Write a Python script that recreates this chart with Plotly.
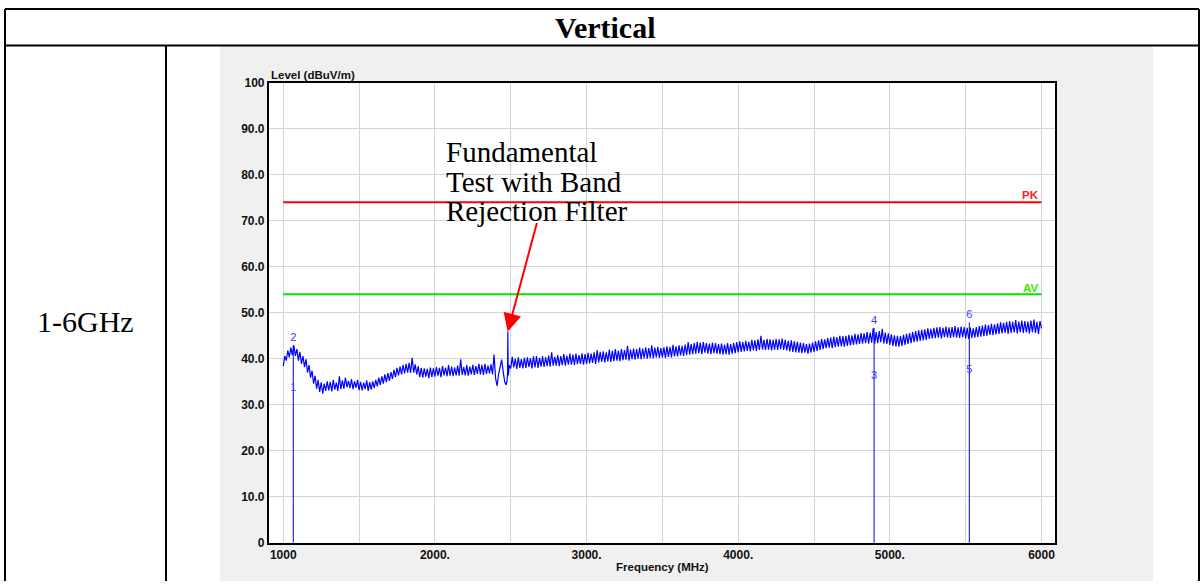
import plotly.graph_objects as go

# ---------------- data ----------------
freq_a = list(range(1000, 2460, 10))
level_a = [38.4, 40.6, 39.6, 41.8, 40.3, 42.4, 40.8, 42.9, 40.6, 42.1,
           39.6, 41.5, 38.9, 40.6, 38.2, 39.9, 37.0, 38.6, 35.9, 37.4,
           34.6, 36.3, 33.5, 35.4, 32.8, 34.9, 32.4, 34.6, 33.0, 35.1,
           33.1, 35.0, 32.9, 35.4, 33.3, 34.8, 33.0, 36.2, 33.4, 35.3,
           33.5, 35.9, 33.8, 35.2, 33.6, 35.6, 33.4, 35.1, 33.7, 35.4,
           33.2, 35.0, 33.1, 34.8, 33.4, 35.3, 33.0, 34.9, 33.3, 35.1,
           33.6, 35.4, 34.0, 35.9, 34.3, 36.2, 34.6, 36.6, 34.9, 36.9,
           35.2, 37.1, 35.6, 37.6, 36.0, 38.0, 36.4, 38.3, 36.6, 38.7,
           36.8, 38.9, 37.0, 39.1, 36.9, 40.2, 37.0, 38.8, 36.6, 38.4,
           36.0, 38.0, 35.9, 37.9, 36.1, 37.8, 35.8, 38.1, 36.0, 37.9,
           36.1, 38.2, 36.3, 38.0, 36.0, 38.4, 36.4, 38.1, 36.2, 38.6,
           36.3, 38.3, 36.2, 38.1, 36.4, 38.5, 36.3, 39.9, 36.5, 38.2,
           36.4, 38.6, 36.3, 38.3, 36.6, 38.7, 36.5, 38.4, 36.7, 38.9,
           36.6, 38.7, 36.5, 38.9, 36.7, 38.5, 36.8, 38.8, 36.6, 40.9,
           35.8, 34.1, 36.6, 38.2, 39.8, 37.3]
freq_b = [2460, 2470, 2476, 2479, 2481, 2483, 2486, 2490]
level_b = [35.0, 34.3, 35.2, 36.8, 45.9, 36.4, 36.9, 38.6]
freq_c = list(range(2500, 6001, 10))
level_c = [37.9, 40.4, 38.1, 40.0, 37.8, 40.3, 38.0, 39.9, 37.9, 40.2,
           38.0, 40.3, 38.2, 40.1, 37.9, 40.5, 38.1, 40.6, 38.0, 40.2,
           38.3, 40.5, 38.2, 40.3, 38.4, 40.7, 38.3, 41.4, 38.5, 40.4,
           38.5, 40.8, 38.4, 40.6, 38.6, 41.0, 38.5, 40.7, 38.7, 41.1,
           38.7, 40.9, 38.6, 41.1, 38.8, 40.8, 38.9, 41.2, 38.7, 41.0,
           38.9, 41.3, 39.0, 41.1, 39.1, 41.4, 38.9, 41.9, 39.2, 41.5,
           39.3, 41.6, 39.2, 41.4, 39.4, 42.0, 39.3, 41.7, 39.5, 42.1,
           39.6, 41.8, 39.5, 42.1, 39.7, 41.9, 39.8, 42.8, 39.6, 42.0,
           39.9, 42.2, 39.8, 42.1, 40.0, 42.4, 39.9, 42.2, 40.1, 42.5,
           40.0, 42.3, 40.2, 42.9, 40.1, 42.4, 40.3, 42.6, 40.2, 42.3,
           40.3, 42.5, 40.2, 42.7, 40.4, 42.6, 40.3, 43.0, 40.5, 42.7,
           40.5, 42.9, 40.7, 42.8, 40.6, 43.1, 40.8, 43.6, 40.9, 43.2,
           41.0, 43.4, 41.1, 43.7, 41.2, 43.5, 41.0, 43.6, 41.3, 43.4,
           41.1, 43.3, 41.0, 43.5, 41.2, 43.4, 41.1, 43.2, 41.0, 43.3,
           40.9, 43.1, 41.0, 43.4, 40.9, 43.2, 41.1, 43.4, 41.2, 43.6,
           41.4, 43.8, 41.5, 43.6, 41.6, 43.9, 41.7, 43.7, 41.6, 44.1,
           41.8, 44.0, 41.7, 44.2, 41.9, 45.0, 42.0, 44.1, 41.9, 44.3,
           42.0, 44.2, 41.8, 44.1, 42.0, 44.3, 41.9, 44.2, 42.1, 44.4,
           41.9, 44.1, 41.8, 43.9, 41.6, 44.0, 41.5, 43.8, 41.4, 43.7,
           41.3, 43.5, 41.2, 43.4, 41.3, 43.2, 41.1, 43.3, 41.3, 43.5,
           41.5, 43.8, 41.7, 44.0, 41.9, 44.3, 42.1, 44.2, 42.3, 44.5,
           42.4, 44.6, 42.3, 44.8, 42.5, 44.7, 42.6, 45.0, 42.7, 44.9,
           42.6, 45.0, 42.8, 45.2, 42.9, 45.1, 43.0, 45.4, 43.1, 45.3,
           43.2, 45.6, 43.3, 45.5, 43.4, 45.8, 43.3, 45.7, 43.5, 46.6,
           43.3, 45.8, 43.4, 46.0, 43.6, 46.5, 43.3, 45.7, 43.2, 45.5,
           43.0, 45.3, 42.8, 45.1, 42.7, 45.0, 42.6, 44.9, 42.8, 45.2,
           43.0, 45.4, 43.2, 45.6, 43.4, 45.8, 43.6, 46.0, 43.7, 46.2,
           43.9, 46.3, 44.0, 46.4, 44.1, 46.6, 44.3, 46.5, 44.4, 46.7,
           44.5, 46.8, 44.6, 46.9, 44.4, 46.7, 44.7, 47.0, 44.6, 46.8,
           44.5, 46.9, 44.7, 47.1, 44.6, 46.8, 44.5, 47.0, 44.7, 46.9,
           44.4, 46.7, 44.3, 46.8, 44.5, 46.6, 44.6, 46.9, 44.7, 47.1,
           44.8, 47.2, 44.9, 47.4, 45.0, 47.3, 45.2, 47.6, 45.1, 47.5,
           45.3, 47.7, 45.4, 47.9, 45.5, 47.8, 45.6, 48.0, 45.4, 48.2,
           45.6, 48.0, 45.7, 48.4, 45.5, 48.1, 45.8, 48.3, 45.6, 48.2,
           45.7, 48.1, 45.5, 48.3, 45.8, 48.5, 45.6, 48.0, 45.4, 48.2,
           46.6]

limit_freq = [1000, 6000]
pk_limit = 74
av_limit = 54

marker_freq = [1066, 4896, 5524]
marker_top = [42.9, 46.7, 47.9]
marker_ids = ["1", "2", "3", "4", "5", "6"]
marker_label_freq = [1066, 1066, 4896, 4896, 5524, 5524]
marker_label_level = [33.5, 44.5, 36.1, 48.2, 37.4, 49.4]

x_tickvals = [1000, 1500, 2000, 2500, 3000, 3500, 4000, 4500, 5000, 5500, 6000]
x_ticktext = ["1000", "", "2000.", "", "3000.", "", "4000.", "", "5000.", "", "6000"]
y_tickvals = [0, 10, 20, 30, 40, 50, 60, 70, 80, 90, 100]
y_ticktext = ["0", "10.0", "20.0", "30.0", "40.0", "50.0", "60.0", "70.0", "80.0", "90.0", "100"]

# ---------------- figure ----------------
W, H = 1204, 588
VS, VOFF = 0.978, 6.5   # compensation for the vertical mapping observed in the capture

def px(x):
    return x / W
def py(y):
    return 1 - ((y - VOFF) / VS) / H

freq = freq_a + freq_b + freq_c
level = level_a + level_b + level_c

SANS = "Arial, Liberation Sans, sans-serif"
SERIF = "Times New Roman, Liberation Serif, serif"

fig = go.Figure()

fig.add_trace(go.Scatter(x=limit_freq, y=[pk_limit] * len(limit_freq), mode="lines",
                         line=dict(color="#ff0000", width=2), hoverinfo="skip"))
fig.add_trace(go.Scatter(x=limit_freq, y=[av_limit] * len(limit_freq), mode="lines",
                         line=dict(color="#00e600", width=2), hoverinfo="skip"))
fig.add_trace(go.Scatter(x=freq, y=level, mode="lines",
                         line=dict(color="#0000ff", width=1.2)))

mx, my = [], []
for f, t in zip(marker_freq, marker_top):
    mx += [f, f, None]
    my += [0, t, None]
fig.add_trace(go.Scatter(x=mx, y=my, mode="lines", line=dict(color="#0000ff", width=1),
                         hoverinfo="skip"))
fig.add_trace(go.Scatter(x=marker_label_freq, y=marker_label_level, mode="text",
                         text=marker_ids, textposition="middle center",
                         textfont=dict(family=SANS, size=11, color="#3a3aff")))

fig.update_layout(
    width=W, height=H, autosize=False,
    margin=dict(l=0, r=0, t=0, b=0),
    paper_bgcolor="white", plot_bgcolor="white",
    showlegend=False,
    xaxis=dict(domain=[px(268.7), px(1055)], range=[904, 6089],
               tickvals=x_tickvals, ticktext=x_ticktext, ticks="",
               tickfont=dict(family=SANS, size=12, color="#111", weight="bold"),
               showgrid=True, gridcolor="#d4d4d4", gridwidth=1, zeroline=False,
               showline=True, linecolor="black", linewidth=1.5, mirror=True),
    yaxis=dict(domain=[py(543.3), py(82.3)], range=[0, 100],
               tickvals=y_tickvals, ticktext=y_ticktext, ticks="",
               tickfont=dict(family=SANS, size=12, color="#111", weight="bold"),
               ticklabelstandoff=0,
               showgrid=True, gridcolor="#d4d4d4", gridwidth=1, zeroline=False,
               showline=True, linecolor="black", linewidth=1.5, mirror=True),
)

shapes = [
    dict(type="rect", xref="paper", yref="paper", x0=px(220), x1=px(1153), y0=0, y1=py(45),
         fillcolor="#f0f0f0", line=dict(width=0), layer="below"),
    dict(type="rect", xref="x domain", yref="y domain", x0=0, x1=1, y0=0, y1=1,
         fillcolor="white", line=dict(width=0), layer="below"),
    dict(type="line", xref="paper", yref="paper", x0=px(5), x1=px(1199), y0=py(8.5), y1=py(8.5),
         line=dict(color="black", width=2)),
    dict(type="line", xref="paper", yref="paper", x0=px(5), x1=px(1199), y0=py(45), y1=py(45),
         line=dict(color="black", width=2)),
    dict(type="line", xref="paper", yref="paper", x0=px(5), x1=px(5), y0=0, y1=py(8.5),
         line=dict(color="black", width=2)),
    dict(type="line", xref="paper", yref="paper", x0=px(1199), x1=px(1199), y0=0, y1=py(8.5),
         line=dict(color="black", width=2)),
    dict(type="line", xref="paper", yref="paper", x0=px(166), x1=px(166), y0=0, y1=py(45),
         line=dict(color="black", width=2)),
]
fig.update_layout(shapes=shapes)

ann = []
ann.append(dict(text="<b>Vertical</b>", xref="paper", yref="paper", x=px(605), y=py(27),
                xanchor="center", yanchor="middle",
                showarrow=False, font=dict(family=SERIF, size=30, color="black")))
ann.append(dict(text="1-6GHz", xref="paper", yref="paper", x=px(85), y=py(322),
                xanchor="center", yanchor="middle",
                showarrow=False, font=dict(family=SERIF, size=30, color="black")))
for i, line in enumerate(["Fundamental", "Test with Band", "Rejection Filter"]):
    ann.append(dict(text=line, xref="paper", yref="paper", x=px(444), y=py(152 + 29.6 * i),
                    xanchor="left", yanchor="middle", showarrow=False,
                    font=dict(family=SERIF, size=29, color="black")))
ann.append(dict(text="", xref="paper", yref="paper", x=px(507.7), y=py(331.7),
                ax=29.6, ay=-107.7 / VS, showarrow=True, arrowhead=2, arrowsize=1.8,
                arrowwidth=2, arrowcolor="#ff0000", standoff=0))
ann.append(dict(text="<b>Level (dBuV/m)</b>", xref="paper", yref="paper", x=px(269), y=py(74.5),
                xanchor="left", yanchor="middle", showarrow=False,
                font=dict(family=SANS, size=11.5, color="#111")))
ann.append(dict(text="<b>Frequency (MHz)</b>", xref="paper", yref="paper", x=px(662.5), y=py(568),
                xanchor="center", yanchor="middle", showarrow=False,
                font=dict(family=SANS, size=11.5, color="#111")))
ann.append(dict(text="<b>PK</b>", xref="x", yref="y", x=5925, y=75.6,
                xanchor="center", yanchor="middle",
                showarrow=False, font=dict(family=SANS, size=11.5, color="#ff2020")))
ann.append(dict(text="<b>AV</b>", xref="x", yref="y", x=5928, y=55.4,
                xanchor="center", yanchor="middle",
                showarrow=False, font=dict(family=SANS, size=11.5, color="#33ee00")))
fig.update_layout(annotations=ann)

fig.write_html("out.html", config={"displayModeBar": False},
               post_script="document.body.style.margin='0';")
